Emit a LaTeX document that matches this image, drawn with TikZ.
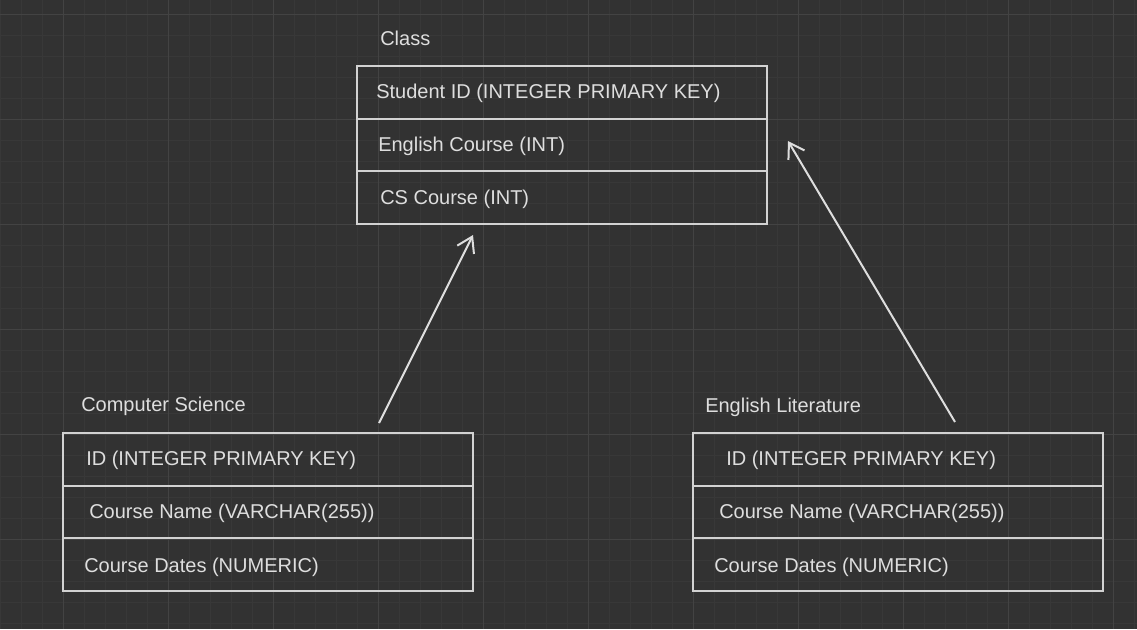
\documentclass[tikz,border=0pt]{standalone}
\usepackage{fontspec}
\setmainfont{Liberation Sans}
\usetikzlibrary{arrows.meta,positioning}
\definecolor{canvas}{HTML}{323232}
\definecolor{gridminor}{HTML}{383838}
\definecolor{gridmajor}{HTML}{434343}
\definecolor{boxline}{HTML}{D2D2D2}
\definecolor{ink}{HTML}{DEDEDE}
\begin{document}
\begin{tikzpicture}[x=0.75pt,y=-0.75pt,font=\fontsize{15}{18}\selectfont,
    row/.style={draw=boxline,line width=1.5pt,minimum width=307.5pt,minimum height=39.4pt,inner sep=0pt,outer sep=0pt},
    field/.style={anchor=base west,text=ink,inner sep=0pt},
    link/.style={draw=ink,line width=1.5pt,-{Straight Barb[length=11pt,width=14pt]}}]
  \useasboundingbox[fill=canvas] (0,0) rectangle (1137,629);

  % grid
  \foreach \gx in {0,21,...,1134}{
    \draw[gridminor,line width=0.6pt] (\gx,0) -- (\gx,629);
  }
  \foreach \gy in {14,35,...,629}{
    \draw[gridminor,line width=0.6pt] (0,\gy) -- (1137,\gy);
  }
  \foreach \gx in {63,168,...,1137}{
    \draw[gridmajor,line width=0.75pt] (\gx,0) -- (\gx,629);
  }
  \foreach \gy in {14,119,...,629}{
    \draw[gridmajor,line width=0.75pt] (0,\gy) -- (1137,\gy);
  }

  % Class table
  \node[field] (classtitle) at (380,45) {Class};
  \node[row,anchor=north west] (class1) at (357,66) {};
  \node[row,below=0pt of class1] (class2) {};
  \node[row,below=0pt of class2] (class3) {};
  \node[field] (studentid) at (376,98) {Student ID (INTEGER PRIMARY KEY)};
  \node[field] (englishcourse) at (378,151) {English Course (INT)};
  \node[field] (cscourse) at (380,204) {CS Course (INT)};

  % Computer Science table
  \node[field] (cstitle) at (81,411) {Computer Science};
  \node[row,anchor=north west] (cs1) at (63,433) {};
  \node[row,below=0pt of cs1] (cs2) {};
  \node[row,below=0pt of cs2] (cs3) {};
  \node[field] (csid) at (86,465) {ID (INTEGER PRIMARY KEY)};
  \node[field] (csname) at (89,518) {Course Name (VARCHAR(255))};
  \node[field] (csdates) at (84,572) {Course Dates (NUMERIC)};

  % English Literature table
  \node[field] (eltitle) at (705,412) {English Literature};
  \node[row,anchor=north west] (el1) at (693,433) {};
  \node[row,below=0pt of el1] (el2) {};
  \node[row,below=0pt of el2] (el3) {};
  \node[field] (elid) at (726,465) {ID (INTEGER PRIMARY KEY)};
  \node[field] (elname) at (719,518) {Course Name (VARCHAR(255))};
  \node[field] (eldates) at (714,572) {Course Dates (NUMERIC)};

  % links
  \coordinate (cstail) at (379,423);
  \coordinate (cshead) at (473,235);
  \coordinate (eltail) at (955,422);
  \coordinate (elhead) at (788,141);
  \draw[link] (cstail) -- (cshead);
  \draw[link] (eltail) -- (elhead);

\end{tikzpicture}
\end{document}
